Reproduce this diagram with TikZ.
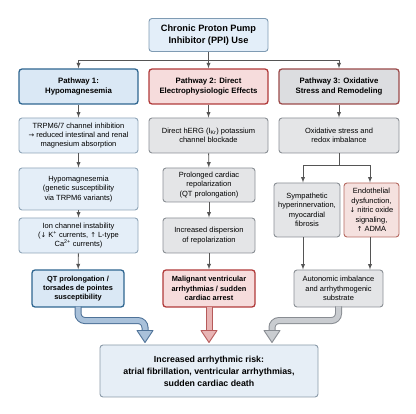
\documentclass[tikz,border=0pt]{standalone}
\usepackage{fontspec}
\setmainfont{Liberation Sans}
\newfontfamily\symfont[Scale=0.9]{DejaVu Sans}
\newcommand{\dnarrow}{{\symfont ↓}}
\newcommand{\uparrowsym}{{\symfont ↑}}
\newcommand{\rtarrow}{{\symfont →}}
\usepackage{tikz}
\usetikzlibrary{shapes,arrows,positioning,calc}

\definecolor{rootfill}{HTML}{E3EEF9}
\definecolor{rootdraw}{HTML}{7F9BB3}
\definecolor{bluefill}{HTML}{DAE8F5}
\definecolor{bluedraw}{HTML}{2F6690}
\definecolor{lbluefill}{HTML}{E4EEF8}
\definecolor{lbluedraw}{HTML}{8FA5B8}
\definecolor{pinkfill}{HTML}{F6DCDC}
\definecolor{reddraw}{HTML}{B03A3A}
\definecolor{grayfill}{HTML}{E4E5E7}
\definecolor{graydraw}{HTML}{8A8F95}
\definecolor{hgrayfill}{HTML}{DCDDE0}
\definecolor{browndraw}{HTML}{9B4A4A}
\definecolor{rosefill}{HTML}{F5E1DF}
\definecolor{rosedraw}{HTML}{B56A62}
\definecolor{riskfill}{HTML}{E6EEF6}
\definecolor{riskdraw}{HTML}{8A9AA8}
\definecolor{linkgray}{HTML}{555555}
\definecolor{fatbluefill}{HTML}{A9C1DA}
\definecolor{fatbluedraw}{HTML}{4E7298}
\definecolor{fatpinkfill}{HTML}{E8B4B4}
\definecolor{fatpinkdraw}{HTML}{B65A5A}
\definecolor{fatgrayfill}{HTML}{C9CCD0}
\definecolor{fatgraydraw}{HTML}{888C92}

\begin{document}
\begin{tikzpicture}[x=1pt, y=-1pt,
        base/.style={rectangle, rounded corners=3pt, align=center, inner sep=1pt, line width=0.9pt},
        body/.style={base, font=\fontsize{7.5}{9.4}\selectfont},
        head/.style={base, line width=1.3pt, minimum width=119pt, minimum height=35pt, font=\bfseries\fontsize{7.8}{10}\selectfont},
        bluebox/.style={body, draw=lbluedraw, fill=lbluefill},
        graybox/.style={body, draw=graydraw, fill=grayfill},
        endpoint/.style={base, line width=1.3pt, minimum width=92pt, minimum height=37pt, font=\bfseries\fontsize{7.4}{9.4}\selectfont},
        arrow/.style={->, >=latex, draw=linkgray, line width=0.9pt},
        link/.style={draw=linkgray, line width=0.9pt},
        fathead/.style={line width=0.9pt, line join=round}]

        \useasboundingbox (0,0) rectangle (416,414);

        % root
        \node[base, draw=rootdraw, fill=rootfill, minimum width=119pt, minimum height=33pt,
              font=\bfseries\fontsize{9.2}{12}\selectfont] (root) at (208.5,35) {Chronic Proton Pump\\Inhibitor (PPI) Use};

        % pathway headers
        \node[head, draw=bluedraw, fill=bluefill] (h1) at (78.5,86.5) {Pathway 1:\\Hypomagnesemia};
        \node[head, draw=reddraw, fill=pinkfill] (h2) at (208.5,86.5) {Pathway 2: Direct\\Electrophysiologic Effects};
        \node[head, draw=browndraw, fill=hgrayfill, minimum width=120pt] (h3) at (339,86.5) {Pathway 3: Oxidative\\Stress and Remodeling};

        % pathway 1
        \node[bluebox, minimum width=119pt, minimum height=35pt] (a1) at (78.5,135.5) {TRPM6/7 channel inhibition\\\rtarrow{} reduced intestinal and renal\\magnesium absorption};
        \node[bluebox, minimum width=119pt, minimum height=42pt] (a2) at (78.5,189) {Hypomagnesemia\\(genetic susceptibility\\via TRPM6 variants)};
        \node[bluebox, minimum width=119pt, minimum height=35pt] (a3) at (78.5,235.5) {Ion channel instability\\(\dnarrow{} K\textsuperscript{+} currents, \uparrowsym{} L-type\\Ca\textsuperscript{2+} currents)};
        \node[endpoint, draw=bluedraw, fill=bluefill] (a4) at (78,288.5) {QT prolongation /\\torsades de pointes\\susceptibility};

        % pathway 2
        \node[graybox, minimum width=119pt, minimum height=35pt] (b1) at (208.5,135.5) {Direct hERG (I\textsubscript{Kr}) potassium\\channel blockade};
        \node[graybox, minimum width=92pt, minimum height=34pt] (b2) at (209,185) {Prolonged cardiac\\repolarization\\(QT prolongation)};
        \node[graybox, minimum width=92pt, minimum height=35pt] (b3) at (209,235.5) {Increased dispersion\\of repolarization};
        \node[endpoint, draw=reddraw, fill=pinkfill] (b4) at (209,288.5) {Malignant ventricular\\arrhythmias / sudden\\cardiac arrest};

        % pathway 3
        \node[graybox, minimum width=120pt, minimum height=35pt] (c1) at (339,135.5) {Oxidative stress and\\redox imbalance};
        \node[graybox, minimum width=66pt, minimum height=54pt] (c2) at (307,210) {Sympathetic\\hyperinnervation,\\myocardial\\fibrosis};
        \node[body, draw=rosedraw, fill=rosefill, minimum width=55pt, minimum height=54pt] (c3) at (371.5,210) {Endothelial\\dysfunction,\\\dnarrow{} nitric oxide\\signaling,\\\uparrowsym{} ADMA};
        \node[graybox, minimum width=89pt, minimum height=37pt] (c4) at (338.5,288.5) {Autonomic imbalance\\and arrhythmogenic\\substrate};

        % outcome
        \node[base, draw=riskdraw, fill=riskfill, minimum width=218pt, minimum height=52pt,
              font=\bfseries\fontsize{8.8}{12}\selectfont] (risk) at (209,371) {Increased arrhythmic risk:\\atrial fibrillation, ventricular arrhythmias,\\sudden cardiac death};

        % root to pathways
        \coordinate (split) at ($(root.south)+(0,9)$);
        \draw[link] (root.south) -- (split);
        \draw[arrow] (split) -| (h1.north);
        \draw[arrow] (split) -- (h2.north);
        \draw[arrow] (split) -| (h3.north);

        % chains
        \draw[arrow] (h1) -- (a1);
        \draw[arrow] (a1) -- (a2);
        \draw[arrow] (a2) -- (a3);
        \draw[arrow] (a3) -- (a4);
        \draw[arrow] (h2) -- (b1);
        \draw[arrow] (b1) -- (b2);
        \draw[arrow] (b2) -- (b3);
        \draw[arrow] (b3) -- (b4);
        \draw[arrow] (h3) -- (c1);

        % branch in pathway 3
        \coordinate (fork) at ($(c1.south)+(0,12)$);
        \draw[link] (c1.south) -- (fork);
        \draw[arrow] (fork) -| ($(c2.north)+(-4,0)$);
        \draw[arrow] (fork) -| ($(c3.north)+(-1.5,0)$);
        \draw[arrow] ($(c2.south)+(-4,0)$) -- ($(c2.south |- c4.north)+(-4,0)$);
        \draw[arrow] ($(c3.south)+(-1.5,0)$) -- ($(c3.south |- c4.north)+(-1.5,0)$);

        % block arrows into the outcome
        \coordinate (tip1) at ($(risk.north)+(-64,-2)$);
        \coordinate (tip2) at ($(risk.north)+(0,-2)$);
        \coordinate (tip3) at ($(risk.north)+(63,-2)$);

        \draw[line width=1pt, draw=fatbluedraw, double=fatbluefill, double distance=5pt, rounded corners=7pt]
            ($(a4.south)+(0,-1)$) |- ($(tip1)+(0,-22)$) -- ($(tip1)+(0,-11)$);
        \draw[fathead, draw=fatbluedraw, fill=fatbluefill] ($(tip1)+(-8,-12)$) -- ($(tip1)+(8,-12)$) -- (tip1) -- cycle;

        \draw[line width=1pt, draw=fatpinkdraw, double=fatpinkfill, double distance=5pt]
            ($(b4.south)+(0,-1)$) -- ($(tip2)+(0,-11)$);
        \draw[fathead, draw=fatpinkdraw, fill=fatpinkfill] ($(tip2)+(-8,-12)$) -- ($(tip2)+(8,-12)$) -- (tip2) -- cycle;

        \draw[line width=1pt, draw=fatgraydraw, double=fatgrayfill, double distance=5pt, rounded corners=7pt]
            ($(c4.south)+(0,-1)$) |- ($(tip3)+(0,-22)$) -- ($(tip3)+(0,-11)$);
        \draw[fathead, draw=fatgraydraw, fill=fatgrayfill] ($(tip3)+(-8,-12)$) -- ($(tip3)+(8,-12)$) -- (tip3) -- cycle;

    \end{tikzpicture}
\end{document}
